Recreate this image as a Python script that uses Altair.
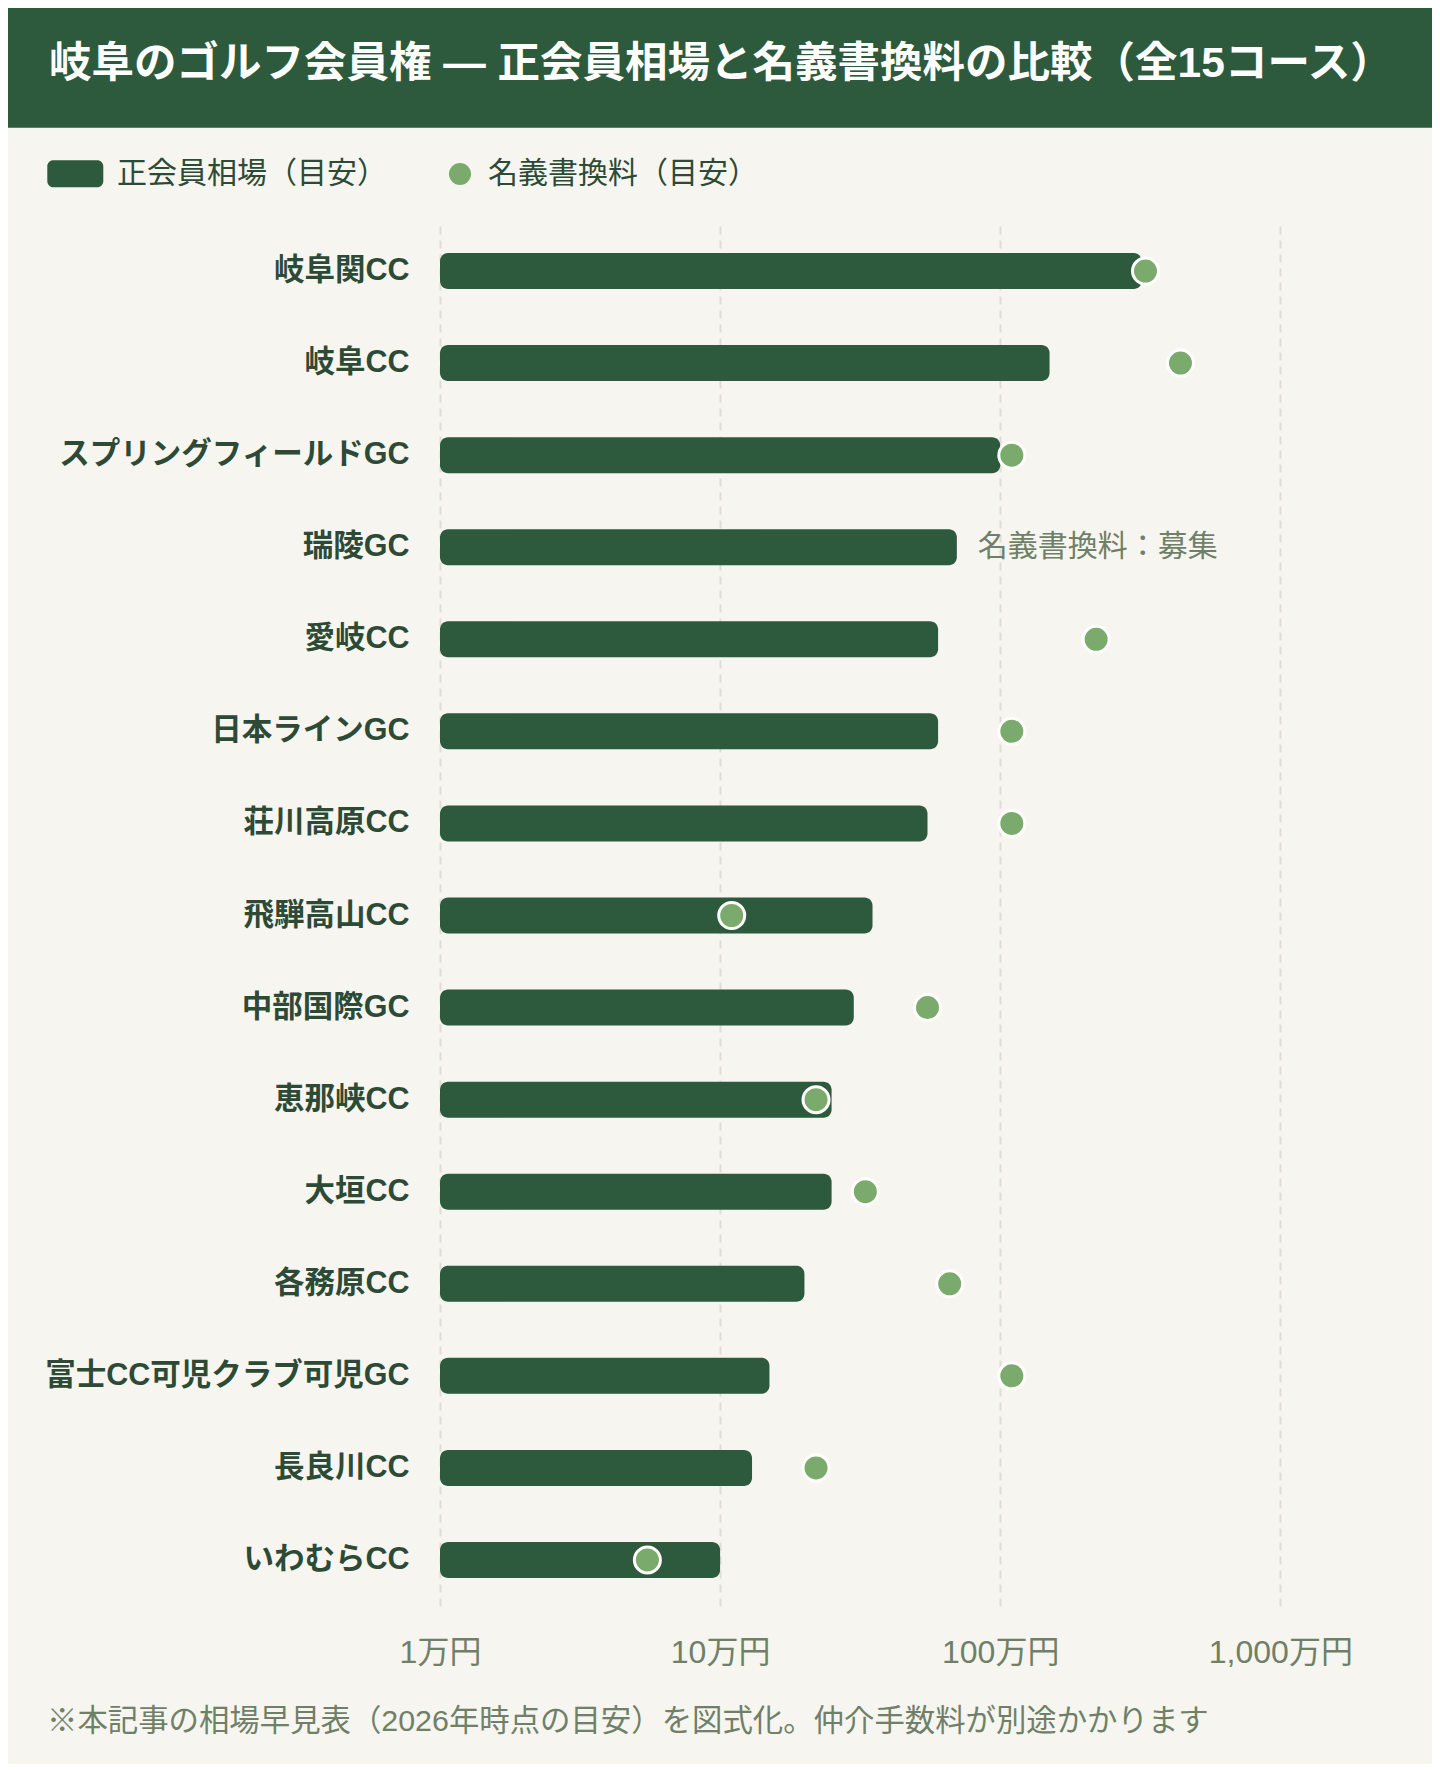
import altair as alt
import pandas as pd

# ---- data (values in 万円) ----
courses = ["岐阜関CC", "岐阜CC", "スプリングフィールドGC", "瑞陵GC", "愛岐CC",
           "日本ラインGC", "荘川高原CC", "飛騨高山CC", "中部国際GC", "恵那峡CC",
           "大垣CC", "各務原CC", "富士CC可児クラブ可児GC", "長良川CC", "いわむらCC"]
market = [320, 150, 100, 70, 60, 60, 55, 35, 30, 25, 25, 20, 15, 13, 10]
fee = [330, 440, 110, None, 220, 110, 110, 11, 55, 22, 33, 66, 110, 22, 5.5]

tick_values = [1, 10, 100, 1000]
tick_labels = ["1万円", "10万円", "100万円", "1,000万円"]
legend_labels = ["正会員相場（目安）", "名義書換料（目安）"]
title_text = "岐阜のゴルフ会員権 — 正会員相場と名義書換料の比較（全15コース）"
note_text = "※本記事の相場早見表（2026年時点の目安）を図式化。仲介手数料が別途かかります"
recruit_text = "名義書換料：募集"

df = pd.DataFrame({"course": courses, "market": market, "fee": fee})
one = pd.DataFrame({"k": [0]})

# ---- style ----
BG = "#f6f5ef"
BAR = "#2d5a3d"
DOT = "#7aaa6c"
LABEL = "#2d4a36"
MUTED = "#6f7f68"
GRID = "#dfddd6"
FONT = "Liberation Sans, Noto Sans CJK JP"

W, H = 974, 1381
PL, PT = 432, 217
PR = 1424 - PL - W
PB = 1756 - PT - H

label_expr = " : ".join(
    f"datum.value == {v} ? '{l}'" for v, l in zip(tick_values, tick_labels)
) + " : ''"

xscale = alt.Scale(type="log", domain=[1, 3000], nice=False)

x_axis = alt.Axis(
    values=tick_values, labelExpr=label_expr, title=None, domain=False,
    ticks=False, tickSize=0, labelPadding=46, labelBaseline="middle",
    labelFlush=False, labelAlign="center",
    labelFont=FONT, labelFontSize=32, labelColor=MUTED,
    grid=True, gridColor=GRID, gridDash=[8, 6], gridWidth=2,
)
y_enc = alt.Y(
    "course:N", sort=courses, title=None,
    scale=alt.Scale(paddingInner=0, paddingOuter=0),
    axis=alt.Axis(domain=False, ticks=False, tickSize=0, labelPadding=31,
                  labelFont=FONT, labelFontSize=30.5, labelFontWeight="bold",
                  labelColor=LABEL, labelLimit=600, grid=False),
)

rect_path = ("M-1.4667,-0.9 H1.4667 A0.4,0.4 0 0 1 1.8667,-0.5 V0.5 "
             "A0.4,0.4 0 0 1 1.4667,0.9 H-1.4667 A0.4,0.4 0 0 1 -1.8667,0.5 "
             "V-0.5 A0.4,0.4 0 0 1 -1.4667,-0.9 Z")

bars = alt.Chart(df).transform_calculate(
    s=f"'{legend_labels[0]}'"
).mark_bar(size=36, cornerRadius=8).encode(
    x=alt.X("market:Q", scale=xscale, axis=x_axis),
    x2=alt.datum(1),
    y=y_enc,
    color=alt.Color("s:N", scale=alt.Scale(domain=[legend_labels[0]], range=[BAR]),
                    legend=alt.Legend(orient="none", legendX=-379.7, legendY=-66.3,
                                      title=None, symbolType=rect_path, symbolSize=900,
                                      symbolStrokeWidth=0, labelOffset=26.75,
                                      labelFont=FONT, labelFontSize=30,
                                      labelColor=LABEL, labelLimit=600, padding=0)),
)

dots = alt.Chart(df).transform_filter("isValid(datum.fee)").transform_calculate(
    s=f"'{legend_labels[1]}'"
).mark_circle(size=676, stroke="white", strokeWidth=3, opacity=1).encode(
    x=alt.X("fee:Q", scale=xscale),
    y=alt.Y("course:N", sort=courses),
    color=alt.Color("s:N", scale=alt.Scale(domain=[legend_labels[1]], range=[DOT]),
                    legend=alt.Legend(orient="none", legendX=5, legendY=-66,
                                      title=None, symbolType="circle", symbolSize=484,
                                      symbolStrokeWidth=0, labelOffset=13,
                                      labelFont=FONT, labelFontSize=30,
                                      labelColor=LABEL, labelLimit=600, padding=0)),
)

recruit = alt.Chart(df).transform_filter("!isValid(datum.fee)").mark_text(
    text=recruit_text, align="left", baseline="middle", dx=21,
    font=FONT, fontSize=30, color=MUTED,
).encode(
    x=alt.X("market:Q", scale=xscale),
    y=alt.Y("course:N", sort=courses),
)

header = alt.Chart(one).mark_rect(color=BAR).encode(
    x=alt.value(-PL), x2=alt.value(1424 - PL),
    y=alt.value(-PT), y2=alt.value(-97.3),
)
title = alt.Chart(one).mark_text(
    text=title_text, align="left", baseline="middle",
    font=FONT, fontSize=42.5, fontWeight="bold", color="white",
).encode(x=alt.value(-391), y=alt.value(-161))

note = alt.Chart(one).mark_text(
    text=note_text, align="left", baseline="middle",
    font=FONT, fontSize=30.4, color=MUTED,
).encode(x=alt.value(-393), y=alt.value(1497))

chart = alt.layer(header, title, bars, dots, recruit, note).resolve_scale(
    color="independent"
).properties(
    width=W, height=H,
    autosize=alt.AutoSizeParams(type="none"),
    padding={"left": PL, "top": PT, "right": PR, "bottom": PB},
    background=BG,
).configure_view(stroke=None)

chart.save("out.html", embed_options={"renderer": "svg", "actions": False})
